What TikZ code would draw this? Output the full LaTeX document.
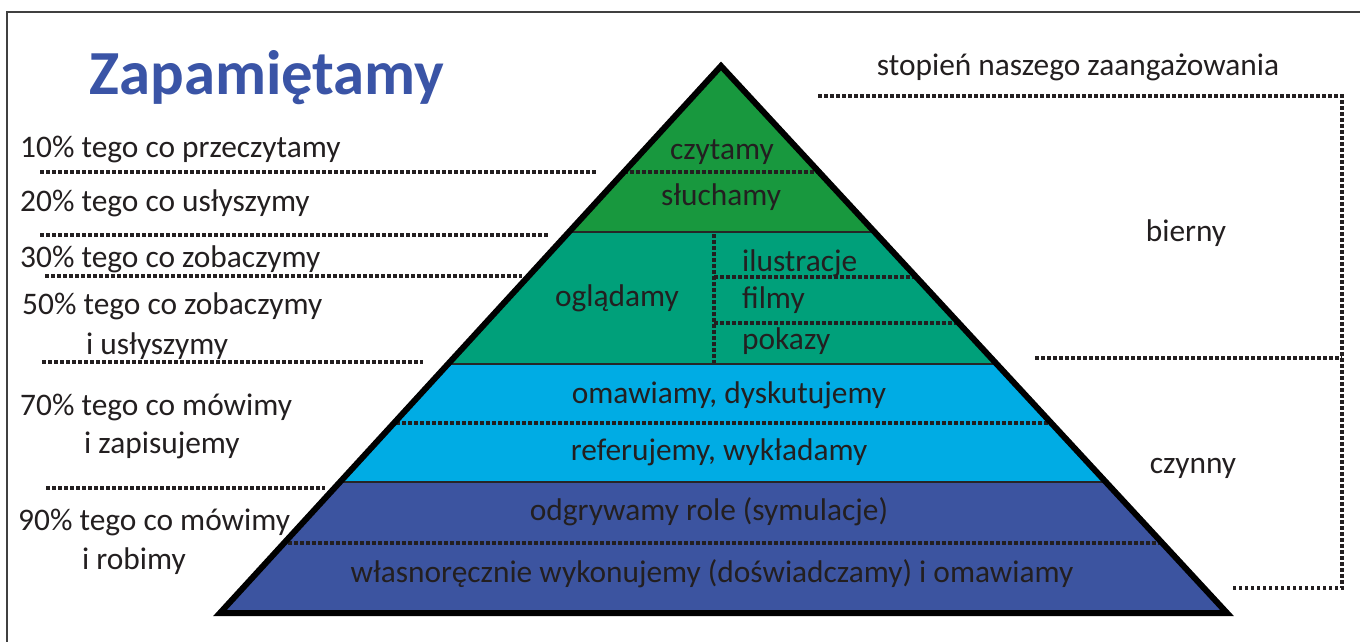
\documentclass[tikz,border=0pt]{standalone}
\usepackage{fontspec}
\setmainfont{Carlito}
\definecolor{pgreen}{RGB}{24,152,62}
\definecolor{pteal}{RGB}{0,160,122}
\definecolor{plblue}{RGB}{0,172,228}
\definecolor{pdblue}{RGB}{60,84,160}
\definecolor{ttlblue}{RGB}{58,84,166}
\definecolor{txt}{RGB}{35,31,32}
\tikzset{
  lbl/.style={font=\fontsize{31.5}{36}\selectfont, text=txt, inner sep=0pt},
  dotline/.style={line width=3.5bp, dash pattern=on 3.5bp off 2.5bp, draw=txt},
  bandsep/.style={line width=2.5bp, draw=black!85},
}
\begin{document}
\begin{tikzpicture}[x=1bp,y=-1bp]
\useasboundingbox (0,0) rectangle (1360,642);
\fill[white] (0,0) rectangle (1360,642);
% frame
\draw[line width=2bp, draw=black!75] (7,642) -- (7,12) -- (1360,12);
% title
\node[font=\fontsize{63}{70}\selectfont\bfseries, text=ttlblue, inner sep=0pt] (title) at (267,78) {Zapamiętamy};
% pyramid
\coordinate (A) at (721,66);
\coordinate (L) at (220,613);
\coordinate (R) at (1227,613);
\begin{scope}
\clip (A) -- (L) -- (R) -- cycle;
\fill[pgreen] (150,40) rectangle (1300,232);
\fill[pteal] (150,232) rectangle (1300,364);
\fill[plblue] (150,364) rectangle (1300,482);
\fill[pdblue] (150,482) rectangle (1300,620);
\draw[bandsep] (150,232) -- (1300,232);
\draw[bandsep] (150,364) -- (1300,364);
\draw[bandsep] (150,482) -- (1300,482);
\draw[dotline] (150,172) -- (1300,172);
\draw[dotline] (150,423) -- (1300,423);
\draw[dotline] (150,543) -- (1300,543);
\draw[dotline] (714,234) -- (714,363);
\draw[dotline] (714,277) -- (1300,277);
\draw[dotline] (714,323) -- (1300,323);
\end{scope}
\draw[line width=6bp, line join=miter, miter limit=20] (A) -- (L) -- (R) -- cycle;
% pyramid texts
\node[lbl] (czy) at (722,152) {czytamy};
\node[lbl] (slu) at (721,197) {słuchamy};
\node[lbl] (ogl) at (617,298) {oglądamy};
\node[lbl, anchor=west] (ilu) at (742,263) {ilustracje};
\node[lbl, anchor=west] (fil) at (742,300) {filmy};
\node[lbl, anchor=west] (pok) at (742,341) {pokazy};
\node[lbl] (oma) at (729,395) {omawiamy, dyskutujemy};
\node[lbl] (ref) at (719,452) {referujemy, wykładamy};
\node[lbl] (odg) at (709,512) {odgrywamy role (symulacje)};
\node[lbl] (wla) at (712,574) {własnoręcznie wykonujemy (doświadczamy) i omawiamy};
% left labels
\node[lbl, anchor=west] (l10) at (20,149) {10\% tego co przeczytamy};
\node[lbl, anchor=west] (l20) at (20,203) {20\% tego co usłyszymy};
\node[lbl, anchor=west] (l30) at (20,259) {30\% tego co zobaczymy};
\node[lbl, anchor=west] (l50) at (22,306) {50\% tego co zobaczymy};
\node[lbl, anchor=west] (l50b) at (86,346) {i usłyszymy};
\node[lbl, anchor=west] (l70) at (20,407) {70\% tego co mówimy};
\node[lbl, anchor=west] (l70b) at (84,445) {i zapisujemy};
\node[lbl, anchor=west] (l90) at (18,522) {90\% tego co mówimy};
\node[lbl, anchor=west] (l90b) at (82,561) {i robimy};
\draw[dotline] (40,172) -- (598,172);
\draw[dotline] (40,235) -- (550,235);
\draw[dotline] (45,276) -- (522,276);
\draw[dotline] (42,362) -- (423,362);
\draw[dotline] (46,488) -- (325,488);
% right side
\node[lbl] (stp) at (1078,67) {stopień naszego zaangażowania};
\node[lbl] (bie) at (1186,233) {bierny};
\node[lbl] (czn) at (1193,468) {czynny};
\draw[dotline] (818,96) -- (1342,96) -- (1342,588) -- (1230,588);
\draw[dotline] (1035,358) -- (1342,358);
\end{tikzpicture}
\end{document}
